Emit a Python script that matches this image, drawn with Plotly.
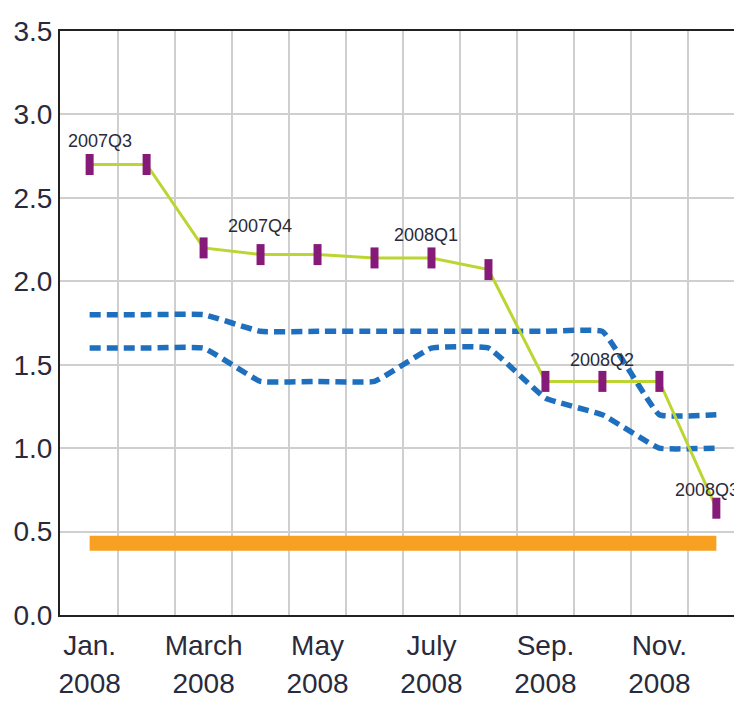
import plotly.graph_objects as go

# Data
months = [1, 2, 3, 4, 5, 6, 7, 8, 9, 10, 11, 12]
actual = [2.7, 2.7, 2.2, 2.16, 2.16, 2.14, 2.14, 2.07, 1.4, 1.4, 1.4, 0.64]
upper_band = [1.8, 1.8, 1.8, 1.7, 1.7, 1.7, 1.7, 1.7, 1.7, 1.7, 1.2, 1.2]
lower_band = [1.6, 1.6, 1.6, 1.4, 1.4, 1.4, 1.6, 1.6, 1.3, 1.2, 1.0, 1.0]
threshold = [0.43] * 12

quarter_labels = ["2007Q3", "2007Q4", "2008Q1", "2008Q2", "2008Q3"]
quarter_x = [1.18, 3.99, 6.9, 9.99, 11.83]
quarter_y = [2.84, 2.33, 2.28, 1.53, 0.75]

tick_vals = [1, 3, 5, 7, 9, 11]
tick_month = ["Jan.", "March", "May", "July", "Sep.", "Nov."]
tick_year = ["2008", "2008", "2008", "2008", "2008", "2008"]
grid_vals = [1.5, 2.5, 3.5, 4.5, 5.5, 6.5, 7.5, 8.5, 9.5, 10.5, 11.5]

FONT = "Liberation Sans Narrow, Liberation Sans, Arial"
TXT = "#2a2a3a"
XRANGE = [0.48, 12.45]

fig = go.Figure()

fig.add_trace(go.Scatter(x=months, y=threshold, mode="lines",
                         line=dict(color="#f7a021", width=15), hoverinfo="skip"))
for band in (upper_band, lower_band):
    fig.add_trace(go.Scatter(x=months, y=band, mode="lines",
                             line=dict(color="#1f6fbf", width=5.5, dash="11px,6px",
                                       shape="spline", smoothing=0.3)))
fig.add_trace(go.Scatter(x=months, y=actual, mode="lines+markers",
                         line=dict(color="#bdd532", width=3),
                         marker=dict(symbol="line-ns", size=15,
                                     line=dict(width=8, color="#861a78"))))
# invisible trace so the year-label axis is drawn
fig.add_trace(go.Scatter(x=[XRANGE[0]], y=[0], xaxis="x2", mode="markers",
                         marker=dict(opacity=0), hoverinfo="skip"))

for t, x, y in zip(quarter_labels, quarter_x, quarter_y):
    fig.add_annotation(x=x, y=y, text=t, showarrow=False,
                       font=dict(family=FONT, size=18, color=TXT))

fig.update_layout(
    width=734, height=693,
    margin=dict(l=52, r=0, t=23, b=86),
    plot_bgcolor="white", paper_bgcolor="white",
    showlegend=False,
    font=dict(family=FONT, color=TXT),
    xaxis=dict(
        range=XRANGE, automargin=False,
        tickvals=tick_vals, ticktext=tick_month,
        tickfont=dict(family=FONT, size=28, color=TXT),
        ticklabelstandoff=4,
        showgrid=False, zeroline=False,
        showline=True, linecolor="#222", linewidth=2, mirror=True,
        ticks="",
        minor=dict(tickvals=grid_vals, showgrid=True, gridcolor="#cfcfcf",
                   gridwidth=1.5, ticks=""),
    ),
    xaxis2=dict(
        overlaying="x", side="bottom", anchor="y", range=XRANGE,
        tickvals=tick_vals, ticktext=tick_year, automargin=False,
        tickfont=dict(family=FONT, size=28, color=TXT),
        showgrid=False, zeroline=False, showline=False,
        ticks="", ticklabelstandoff=49,
    ),
    yaxis=dict(
        range=[0, 3.5], automargin=False,
        tickvals=[0, 0.5, 1, 1.5, 2, 2.5, 3, 3.5],
        tickformat=".1f",
        tickfont=dict(family=FONT, size=28, color=TXT),
        showgrid=True, gridcolor="#cfcfcf", gridwidth=1.5,
        zeroline=False,
        showline=True, linecolor="#222", linewidth=2, mirror=False,
        ticks="",
    ),
)

fig.write_html("out.html")
